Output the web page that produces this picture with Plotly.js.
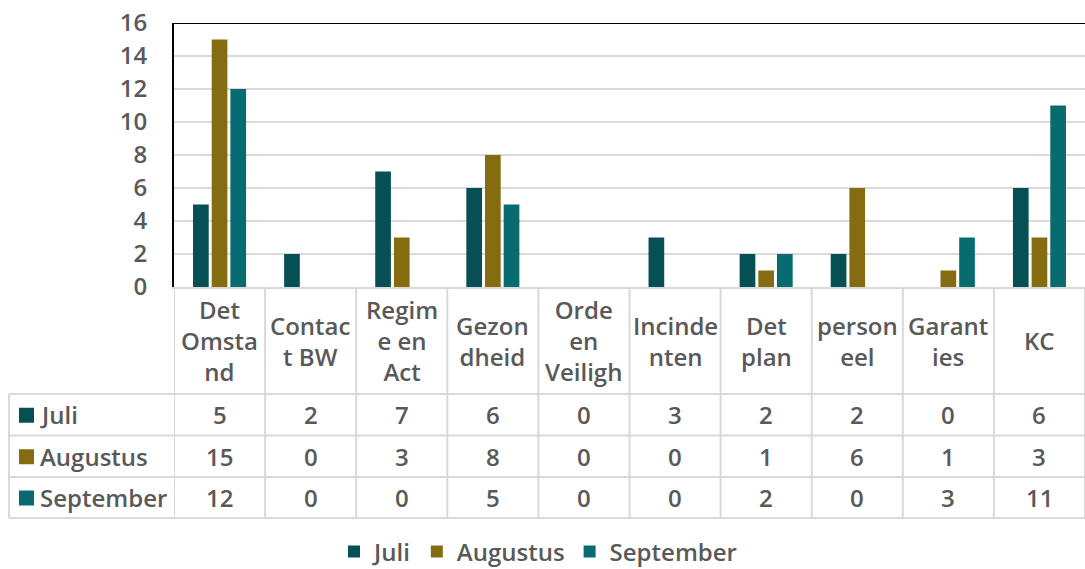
<!DOCTYPE html>
<html>
<head>
<meta charset="utf-8">
<script src="https://cdn.plot.ly/plotly-3.0.1.min.js"></script>
<style>
  body { margin: 0; background: #fff; }
  #chart { width: 1085px; height: 569px; }
</style>
</head>
<body>
<div id="chart"></div>
<script>
// data
const categories = ['Det Omstand', 'Contact BW', 'Regime en Act', 'Gezondheid', 'Orde en Veiligh',
    'Incindenten', 'Det plan', 'personeel', 'Garanties', 'KC'];
const headerLabels = ['Det<br>Omsta<br>nd', 'Contac<br>t BW', 'Regim<br>e en<br>Act', 'Gezon<br>dheid',
    'Orde<br>en<br>Veiligh', 'Incinde<br>nten', 'Det<br>plan', 'person<br>eel', 'Garant<br>ies', 'KC'];
const seriesNames = ['Juli', 'Augustus', 'September'];
const juli = [5, 2, 7, 6, 0, 3, 2, 2, 0, 6];
const augustus = [15, 0, 3, 8, 0, 0, 1, 6, 1, 3];
const september = [12, 0, 0, 5, 0, 0, 2, 0, 3, 11];
const seriesColors = ['#064F55', '#856C10', '#086B70'];
const yMax = 16;

document.addEventListener('DOMContentLoaded', () => {
    const W = 1085, H = 569;
    const margin = { l: 9, r: 0, t: 23, b: 40, autoexpand: false };
    const textColor = '#595959';
    const gridColor = '#D9D9D9';
    const baseFont = { family: 'Open Sans, sans-serif', size: 24, color: textColor, weight: 600 };

    // pixel -> paper helpers (table lives under the plot area)
    const plotH = H - margin.t - margin.b;
    const plotW = W - margin.l - margin.r;
    const py = (y) => (H - margin.b - y) / plotH;
    const px = (x) => (x - margin.l) / plotW;

    const axisBottom = 287;
    const rowLines = [394, 435.5, 477, 518];
    const allValues = [juli, augustus, september];

    const traces = allValues.map((vals, i) => ({
        type: 'bar',
        x: categories,
        y: vals,
        name: seriesNames[i],
        marker: { color: seriesColors[i] },
        hoverinfo: 'skip'
    }));

    const shapes = [];
    const annotations = [];
    const tableLine = { color: gridColor, width: 2 };

    // top border of plot area
    shapes.push({ type: 'line', xref: 'x domain', yref: 'y', x0: 0, x1: 1, y0: yMax, y1: yMax,
        line: { color: '#000', width: 2 } });

    // vertical column separators
    for (let i = 0; i <= categories.length; i++) {
        shapes.push({ type: 'line', xref: 'x', yref: 'paper', x0: i - 0.5, x1: i - 0.5,
            y0: py(axisBottom), y1: py(rowLines[rowLines.length - 1]), line: tableLine });
    }
    // left edge of the label column
    shapes.push({ type: 'line', xref: 'paper', yref: 'paper', x0: 0, x1: 0,
        y0: py(rowLines[0]), y1: py(rowLines[rowLines.length - 1]), line: tableLine });
    // horizontal row separators
    rowLines.forEach((y) => {
        shapes.push({ type: 'line', xref: 'paper', yref: 'paper', x0: 0, x1: 1,
            y0: py(y), y1: py(y), line: tableLine });
    });

    // header cells
    headerLabels.forEach((lab, i) => {
        annotations.push({ xref: 'x', yref: 'paper', x: i, y: py((axisBottom + rowLines[0]) / 2),
            text: lab, showarrow: false, xanchor: 'center', yanchor: 'middle', font: baseFont });
    });

    // value rows, with a small colour key in front of each series name
    allValues.forEach((vals, r) => {
        const yMid = (rowLines[r] + rowLines[r + 1]) / 2;
        const yc = py(yMid);
        shapes.push({ type: 'rect', xref: 'paper', yref: 'paper', x0: px(19), x1: px(34),
            y0: py(yMid + 8), y1: py(yMid - 7), fillcolor: seriesColors[r], line: { width: 0 } });
        annotations.push({ xref: 'paper', yref: 'paper', x: px(38), y: yc, xanchor: 'left', yanchor: 'middle',
            showarrow: false, font: baseFont, text: seriesNames[r] });
        vals.forEach((v, i) => {
            annotations.push({ xref: 'x', yref: 'paper', x: i, y: yc, text: String(v),
                showarrow: false, xanchor: 'center', yanchor: 'middle', font: baseFont });
        });
    });

    const layout = {
        width: W,
        height: H,
        margin: margin,
        paper_bgcolor: '#fff',
        plot_bgcolor: '#fff',
        font: baseFont,
        barmode: 'group',
        bargap: 0.385,
        bargroupgap: 0.16,
        xaxis: {
            domain: [px(174), 1],
            range: [-0.5, categories.length - 0.5],
            showticklabels: false,
            showgrid: false,
            showline: true,
            linecolor: gridColor,
            linewidth: 2,
            ticks: '',
            fixedrange: true
        },
        yaxis: {
            domain: [py(axisBottom), 1],
            range: [0, yMax],
            dtick: 2,
            showgrid: true,
            gridcolor: gridColor,
            gridwidth: 2,
            zeroline: false,
            showline: true,
            linecolor: '#000',
            linewidth: 2,
            ticks: '',
            ticklabelstandoff: 20,
            tickfont: baseFont,
            fixedrange: true
        },
        showlegend: true,
        legend: {
            orientation: 'h',
            x: px(538),
            xanchor: 'center',
            y: py(552),
            yanchor: 'middle',
            font: baseFont,
            traceorder: 'normal'
        },
        shapes: shapes,
        annotations: annotations
    };

    Plotly.newPlot('chart', traces, layout, { displayModeBar: false, staticPlot: true });
});
</script>
</body>
</html>
